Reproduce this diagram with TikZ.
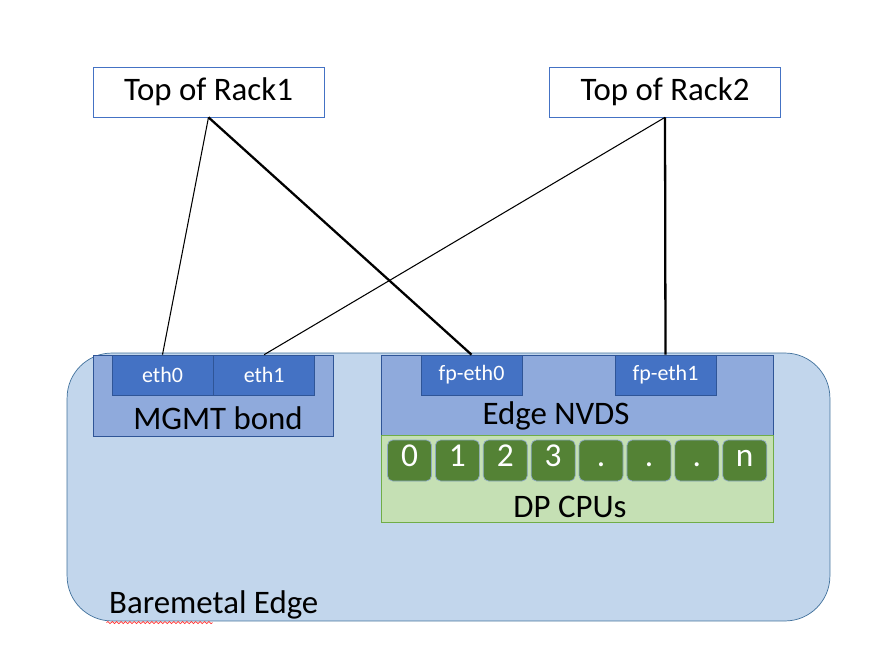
\documentclass[tikz,border=0pt]{standalone}
\usepackage{fontspec}
\setmainfont{Carlito}
\usetikzlibrary{
    positioning,
    decorations.pathmorphing
}
\definecolor{edgefill}{HTML}{C2D6EC}
\definecolor{edgeline}{HTML}{41719C}
\definecolor{bondfill}{HTML}{8FAADC}
\definecolor{bondline}{HTML}{2F5597}
\definecolor{portfill}{HTML}{4472C4}
\definecolor{cpufill}{HTML}{C5E0B4}
\definecolor{cpuline}{HTML}{70AD47}
\definecolor{coredark}{HTML}{548235}

\begin{document}
\begin{tikzpicture}[
    x=0.02cm, y=-0.02cm,
    tor/.style={rectangle, minimum width=4.62cm, minimum height=1cm, inner sep=0pt,
                draw=portfill, fill=white, font=\fontsize{18.7}{21}\selectfont},
    host/.style={rectangle, rounded corners=0.9cm, minimum width=15.26cm, minimum height=5.36cm,
                 draw=edgeline, fill=edgefill},
    switch/.style={rectangle, inner sep=0pt, draw=bondline, fill=bondfill},
    port/.style={rectangle, minimum width=2.02cm, minimum height=0.8cm, inner sep=0pt,
                 draw=bondline, fill=portfill, text=white, font=\fontsize{12.5}{14}\selectfont},
    cpubox/.style={rectangle, minimum width=7.84cm, minimum height=1.74cm, inner sep=0pt,
                   draw=cpuline, fill=cpufill},
    core/.style={rectangle, rounded corners=3pt, minimum width=0.88cm, minimum height=0.82cm,
                 inner sep=0pt, text height=0.64em, text depth=0pt, draw=edgeline!60,
                 fill=coredark, text=white, font=\fontsize{19}{21}\selectfont},
    caption/.style={font=\fontsize{18.7}{21}\selectfont},
    link/.style={draw=black, line width=0.6pt},
    uplink/.style={draw=black, line width=1.3pt}
]
    \useasboundingbox (0,0) rectangle (896,666);

    % Top of rack switches
    \node (tor1) [tor] at (208.5,92) {Top of Rack1};
    \node (tor2) [tor] at (665,92) {Top of Rack2};

    % Baremetal host
    \node (edge) [host] at (448.5,487) {};
    \node (edgelabel) [caption, anchor=west] at (103,605) {Baremetal Edge};
    \draw [red!80, line width=0.4pt, decorate,
           decoration={snake, amplitude=0.6pt, segment length=2.5pt}]
        ([xshift=2pt, yshift=-10pt]edgelabel.west) -- ++(2.12cm,0);

    % Management bond
    \node (mgmt) [switch, minimum width=4.8cm, minimum height=1.62cm] at (213,395.5) {};
    \node (eth0) [port] at (162.5,375) {eth0};
    \node (eth1) [port, right=0pt of eth0] {eth1};
    \node (mgmtlabel) [caption] at (218,418) {MGMT bond};

    % Edge NVDS
    \node (nvds) [switch, minimum width=7.84cm, minimum height=1.6cm] at (577,395) {};
    \node (fpeth0) [port] at (471.5,375) {fp-eth0};
    \node (fpeth1) [port] at (665.5,375) {fp-eth1};
    \node (nvdslabel) [caption] at (556,416) {Edge NVDS};

    % Datapath CPUs
    \node (dp) [cpubox] at (577,478.5) {};
    \node (cpu0) [core] at (409.5,460.5) {0};
    \node (cpu1) [core, right=0.064cm of cpu0] {1};
    \node (cpu2) [core, right=0.064cm of cpu1] {2};
    \node (cpu3) [core, right=0.064cm of cpu2] {3};
    \node (cpu4) [core, right=0.064cm of cpu3] {.};
    \node (cpu5) [core, right=0.064cm of cpu4] {.};
    \node (cpu6) [core, right=0.064cm of cpu5] {.};
    \node (cpun) [core, right=0.064cm of cpu6] {n};
    \node (dplabel) [caption] at (570,507) {DP CPUs};

    % Connections
    \draw [link] (tor1.south) -- (eth0.north);
    \draw [uplink] (tor1.south) -- (fpeth0.north);
    \draw [link] (tor2.south) -- (eth1.north);
    \draw [uplink] (tor2.south) -- (fpeth1.north);

\end{tikzpicture}
\end{document}
